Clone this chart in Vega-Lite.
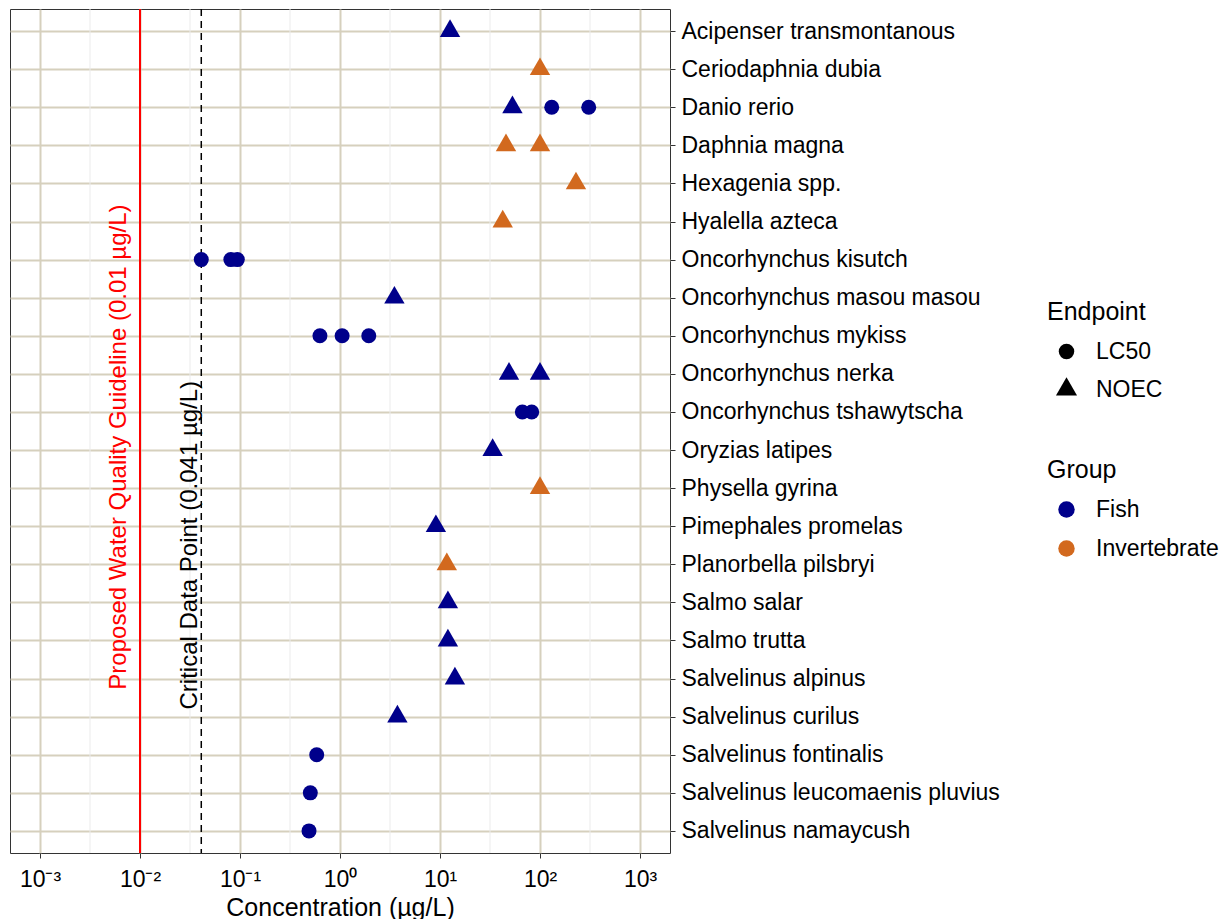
{
  "$schema": "https://vega.github.io/schema/vega-lite/v6.json",
  "width": 660,
  "height": 844,
  "padding": {"left": 10, "top": 8, "right": 0, "bottom": 0},
  "autosize": {"type": "pad"},
  "background": "white",
  "config": {
    "font": "Liberation Sans",
    "view": {"stroke": "#333333", "strokeWidth": 1},
    "axis": {
      "labelFont": "Liberation Sans",
      "titleFont": "Liberation Sans",
      "labelColor": "#000000",
      "titleColor": "#000000",
      "titleFontWeight": "normal",
      "gridColor": "#d6d0bd",
      "gridWidth": 2,
      "gridOpacity": 1,
      "tickColor": "#333333",
      "tickWidth": 1,
      "tickSize": 5,
      "domain": false
    },
    "legend": {
      "titleFont": "Liberation Sans",
      "labelFont": "Liberation Sans",
      "titleFontSize": 25,
      "labelFontSize": 23,
      "titleFontWeight": "normal",
      "titleColor": "#000000",
      "labelColor": "#000000",
      "padding": 0,
      "rowPadding": 15,
      "titlePadding": 15
    }
  },
  "datasets": {
    "tox": [
      {"species": "Acipenser transmontanous", "group": "Fish", "endpoint": "NOEC", "conc": 12.6},
      {"species": "Ceriodaphnia dubia", "group": "Invertebrate", "endpoint": "NOEC", "conc": 100},
      {"species": "Danio rerio", "group": "Fish", "endpoint": "NOEC", "conc": 53},
      {"species": "Danio rerio", "group": "Fish", "endpoint": "LC50", "conc": 131},
      {"species": "Danio rerio", "group": "Fish", "endpoint": "LC50", "conc": 307},
      {"species": "Daphnia magna", "group": "Invertebrate", "endpoint": "NOEC", "conc": 45.7},
      {"species": "Daphnia magna", "group": "Invertebrate", "endpoint": "NOEC", "conc": 100},
      {"species": "Hexagenia spp.", "group": "Invertebrate", "endpoint": "NOEC", "conc": 229},
      {"species": "Hyalella azteca", "group": "Invertebrate", "endpoint": "NOEC", "conc": 42.4},
      {"species": "Oncorhynchus kisutch", "group": "Fish", "endpoint": "LC50", "conc": 0.041},
      {"species": "Oncorhynchus kisutch", "group": "Fish", "endpoint": "LC50", "conc": 0.081},
      {"species": "Oncorhynchus kisutch", "group": "Fish", "endpoint": "LC50", "conc": 0.094},
      {"species": "Oncorhynchus masou masou", "group": "Fish", "endpoint": "NOEC", "conc": 3.5},
      {"species": "Oncorhynchus mykiss", "group": "Fish", "endpoint": "LC50", "conc": 0.63},
      {"species": "Oncorhynchus mykiss", "group": "Fish", "endpoint": "LC50", "conc": 1.05},
      {"species": "Oncorhynchus mykiss", "group": "Fish", "endpoint": "LC50", "conc": 1.94},
      {"species": "Oncorhynchus nerka", "group": "Fish", "endpoint": "NOEC", "conc": 49},
      {"species": "Oncorhynchus nerka", "group": "Fish", "endpoint": "NOEC", "conc": 100},
      {"species": "Oncorhynchus tshawytscha", "group": "Fish", "endpoint": "LC50", "conc": 66.6},
      {"species": "Oncorhynchus tshawytscha", "group": "Fish", "endpoint": "LC50", "conc": 82.6},
      {"species": "Oryzias latipes", "group": "Fish", "endpoint": "NOEC", "conc": 33.6},
      {"species": "Physella gyrina", "group": "Invertebrate", "endpoint": "NOEC", "conc": 100},
      {"species": "Pimephales promelas", "group": "Fish", "endpoint": "NOEC", "conc": 9.1},
      {"species": "Planorbella pilsbryi", "group": "Invertebrate", "endpoint": "NOEC", "conc": 11.7},
      {"species": "Salmo salar", "group": "Fish", "endpoint": "NOEC", "conc": 12},
      {"species": "Salmo trutta", "group": "Fish", "endpoint": "NOEC", "conc": 12},
      {"species": "Salvelinus alpinus", "group": "Fish", "endpoint": "NOEC", "conc": 14.1},
      {"species": "Salvelinus curilus", "group": "Fish", "endpoint": "NOEC", "conc": 3.75},
      {"species": "Salvelinus fontinalis", "group": "Fish", "endpoint": "LC50", "conc": 0.585},
      {"species": "Salvelinus leucomaenis pluvius", "group": "Fish", "endpoint": "LC50", "conc": 0.505},
      {"species": "Salvelinus namaycush", "group": "Fish", "endpoint": "LC50", "conc": 0.49}
    ],
    "minor": [
      {"conc": 0.0031623}, {"conc": 0.031623}, {"conc": 0.31623},
      {"conc": 3.1623}, {"conc": 31.623}, {"conc": 316.23}
    ],
    "guide": [
      {"conc": 0.01, "species": "Oryzias latipes", "label": "Proposed Water Quality Guideline (0.01 µg/L)"}
    ],
    "critical": [
      {"conc": 0.041, "species": "Pimephales promelas", "label": "Critical Data Point (0.041 µg/L)"}
    ]
  },
  "layer": [
    {
      "data": {"name": "minor"},
      "mark": {"type": "rule", "color": "#ebebeb", "strokeWidth": 1},
      "encoding": {
        "x": {"field": "conc", "type": "quantitative"}
      }
    },
    {
      "data": {"name": "guide"},
      "mark": {"type": "rule", "color": "#ff0000", "strokeWidth": 2},
      "encoding": {
        "x": {"field": "conc", "type": "quantitative"}
      }
    },
    {
      "data": {"name": "critical"},
      "mark": {"type": "rule", "color": "#000000", "strokeWidth": 1.5, "strokeDash": [7, 5]},
      "encoding": {
        "x": {"field": "conc", "type": "quantitative"}
      }
    },
    {
      "data": {"name": "guide"},
      "mark": {"type": "text", "angle": 270, "align": "center", "baseline": "alphabetic", "dy": -14, "dx": 3, "fontSize": 24, "color": "#ff0000", "font": "Liberation Sans"},
      "encoding": {
        "x": {"field": "conc", "type": "quantitative"},
        "y": {"field": "species", "type": "nominal"},
        "text": {"field": "label"}
      }
    },
    {
      "data": {"name": "critical"},
      "mark": {"type": "text", "angle": 270, "align": "center", "baseline": "alphabetic", "dy": -4, "dx": -19, "fontSize": 24, "color": "#000000", "font": "Liberation Sans"},
      "encoding": {
        "x": {"field": "conc", "type": "quantitative"},
        "y": {"field": "species", "type": "nominal"},
        "text": {"field": "label"}
      }
    },
    {
      "data": {"name": "tox"},
      "mark": {"type": "point", "filled": true, "opacity": 1, "size": 225, "strokeWidth": 0},
      "encoding": {
        "x": {
          "field": "conc",
          "type": "quantitative",
          "title": "Concentration (µg/L)",
          "scale": {"type": "log", "domain": [0.000501187, 1995.262], "nice": false, "zero": false},
          "axis": {
            "values": [0.001, 0.01, 0.1, 1, 10, 100, 1000],
            "labelExpr": "datum.value < 0.005 ? '10⁻³' : datum.value < 0.05 ? '10⁻²' : datum.value < 0.5 ? '10⁻¹' : datum.value < 5 ? '10⁰' : datum.value < 50 ? '10¹' : datum.value < 500 ? '10²' : '10³'",
            "grid": true,
            "labelFontSize": 23,
            "labelPadding": 10,
            "titleFontSize": 25,
            "titlePadding": 4,
            "labelFlush": false
          }
        },
        "y": {
          "field": "species",
          "type": "nominal",
          "title": null,
          "scale": {
            "type": "point",
            "padding": 0.58,
            "domain": [
              "Acipenser transmontanous", "Ceriodaphnia dubia", "Danio rerio", "Daphnia magna",
              "Hexagenia spp.", "Hyalella azteca", "Oncorhynchus kisutch", "Oncorhynchus masou masou",
              "Oncorhynchus mykiss", "Oncorhynchus nerka", "Oncorhynchus tshawytscha", "Oryzias latipes",
              "Physella gyrina", "Pimephales promelas", "Planorbella pilsbryi", "Salmo salar",
              "Salmo trutta", "Salvelinus alpinus", "Salvelinus curilus", "Salvelinus fontinalis",
              "Salvelinus leucomaenis pluvius", "Salvelinus namaycush"
            ]
          },
          "axis": {
            "orient": "right",
            "grid": true,
            "labelFontSize": 23,
            "labelPadding": 6,
            "labelLimit": 400
          }
        },
        "shape": {
          "field": "endpoint",
          "type": "nominal",
          "scale": {"domain": ["LC50", "NOEC"], "range": ["circle", "M0,-1.573L1.36,0.787L-1.36,0.787Z"]},
          "legend": {
            "title": "Endpoint",
            "orient": "none",
            "legendX": 1037,
            "legendY": 291,
            "rowPadding": 13,
            "symbolSize": 240,
            "symbolFillColor": "#000000",
            "symbolStrokeColor": "#000000",
            "symbolStrokeWidth": 0,
            "symbolOffset": 8,
            "labelOffset": 18
          }
        },
        "color": {
          "field": "group",
          "type": "nominal",
          "scale": {"domain": ["Fish", "Invertebrate"], "range": ["#00008B", "#D2691E"]},
          "legend": {
            "title": "Group",
            "orient": "none",
            "legendX": 1037,
            "legendY": 449,
            "symbolType": "circle",
            "symbolSize": 270,
            "symbolStrokeWidth": 0,
            "symbolOpacity": 1,
            "symbolOffset": 8,
            "labelOffset": 18
          }
        }
      }
    }
  ]
}
